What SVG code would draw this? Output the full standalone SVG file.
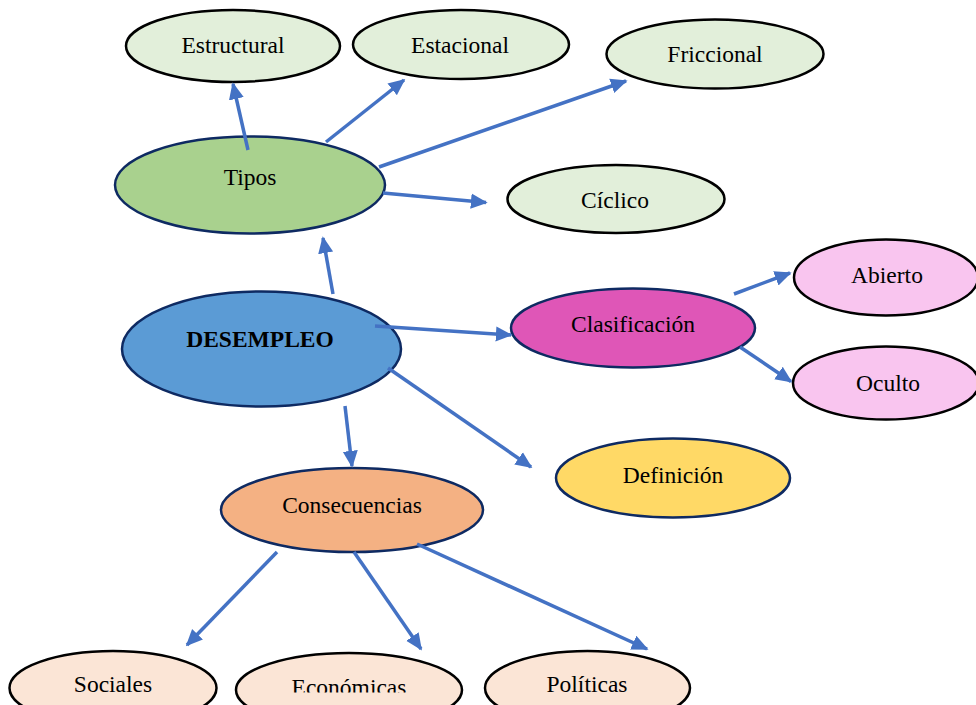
<svg xmlns="http://www.w3.org/2000/svg" width="976" height="705" viewBox="0 0 976 705">
<style>
  .n ellipse { stroke-width: 2.5; }
  .dark { stroke: #0E2A62; }
  .blk { stroke: #000; }
  text { font-family: "Liberation Serif", "Times New Roman", serif; font-size: 23.5px; fill: #000; text-anchor: middle; }
  .b { font-weight: bold; }
  #edges line { stroke: #4472C4; stroke-width: 3.5; marker-end: url(#ah); }
</style>
<defs>
  <marker id="ah" viewBox="0 0 10 10" refX="9" refY="5" markerWidth="4.8" markerHeight="4.8" orient="auto" markerUnits="strokeWidth">
    <path d="M0,0.5 L10,5 L0,9.5 z" fill="#4472C4"/>
  </marker>
  <clipPath id="clipEco"><rect x="0" y="0" width="976" height="692.5"/></clipPath>
</defs>
<rect width="976" height="705" fill="#fff"/>

<g id="estructural" class="n"><ellipse cx="233" cy="46" rx="107" ry="36" fill="#E2EFDA" class="blk"/><text x="233" y="53">Estructural</text></g>
<g id="estacional" class="n"><ellipse cx="461" cy="44.5" rx="108" ry="34.5" fill="#E2EFDA" class="blk"/><text x="460" y="53">Estacional</text></g>
<g id="friccional" class="n"><ellipse cx="715" cy="54" rx="108.5" ry="34.5" fill="#E2EFDA" class="blk"/><text x="715" y="62">Friccional</text></g>
<g id="ciclico" class="n"><ellipse cx="616" cy="199" rx="108.5" ry="34" fill="#E2EFDA" class="blk"/><text x="615" y="208">Cíclico</text></g>
<g id="tipos" class="n"><ellipse cx="250" cy="185" rx="135" ry="48.5" fill="#A9D18E" class="dark"/><text x="250" y="185">Tipos</text></g>
<g id="desempleo" class="n"><ellipse cx="261.5" cy="349" rx="139.5" ry="57.5" fill="#5B9BD5" class="dark"/><text class="b" x="260" y="347">DESEMPLEO</text></g>
<g id="clasificacion" class="n"><ellipse cx="633" cy="328" rx="122" ry="39.5" fill="#DF56B7" class="dark"/><text x="633" y="332">Clasificación</text></g>
<g id="abierto" class="n"><ellipse cx="886" cy="277.5" rx="92" ry="38" fill="#F9C5EF" class="blk"/><text x="887" y="283">Abierto</text></g>
<g id="oculto" class="n"><ellipse cx="886" cy="383" rx="93" ry="36.5" fill="#F9C5EF" class="blk"/><text x="888" y="391">Oculto</text></g>
<g id="definicion" class="n"><ellipse cx="673" cy="478" rx="117" ry="39.5" fill="#FFD966" class="dark"/><text x="673" y="483">Definición</text></g>
<g id="consecuencias" class="n"><ellipse cx="352" cy="510" rx="131" ry="42" fill="#F4B183" class="dark"/><text x="352" y="513">Consecuencias</text></g>
<g id="sociales" class="n"><ellipse cx="113" cy="688" rx="103.5" ry="37" fill="#FBE5D6" class="blk"/><text x="113" y="692">Sociales</text></g>
<g id="economicas" class="n"><ellipse cx="349" cy="690" rx="113" ry="37" fill="#FBE5D6" class="blk"/><text x="349" y="695" clip-path="url(#clipEco)">Económicas</text></g>
<g id="politicas" class="n"><ellipse cx="587.5" cy="688" rx="102.5" ry="37" fill="#FBE5D6" class="blk"/><text x="587" y="692">Políticas</text></g>

<g id="edges">
  <line x1="248" y1="150" x2="233" y2="84"/>
  <line x1="326" y1="142" x2="404" y2="80"/>
  <line x1="379" y1="167" x2="626" y2="81"/>
  <line x1="383" y1="193" x2="486" y2="202.5"/>
  <line x1="333" y1="294" x2="323" y2="238"/>
  <line x1="375" y1="326" x2="511" y2="335"/>
  <line x1="388" y1="368" x2="531" y2="467"/>
  <line x1="345" y1="406" x2="352" y2="466"/>
  <line x1="734" y1="294" x2="790" y2="273"/>
  <line x1="740" y1="347" x2="791" y2="381.5"/>
  <line x1="277" y1="552" x2="187" y2="645"/>
  <line x1="354" y1="552" x2="421" y2="649"/>
  <line x1="417" y1="544" x2="647" y2="649"/>
</g>
</svg>
